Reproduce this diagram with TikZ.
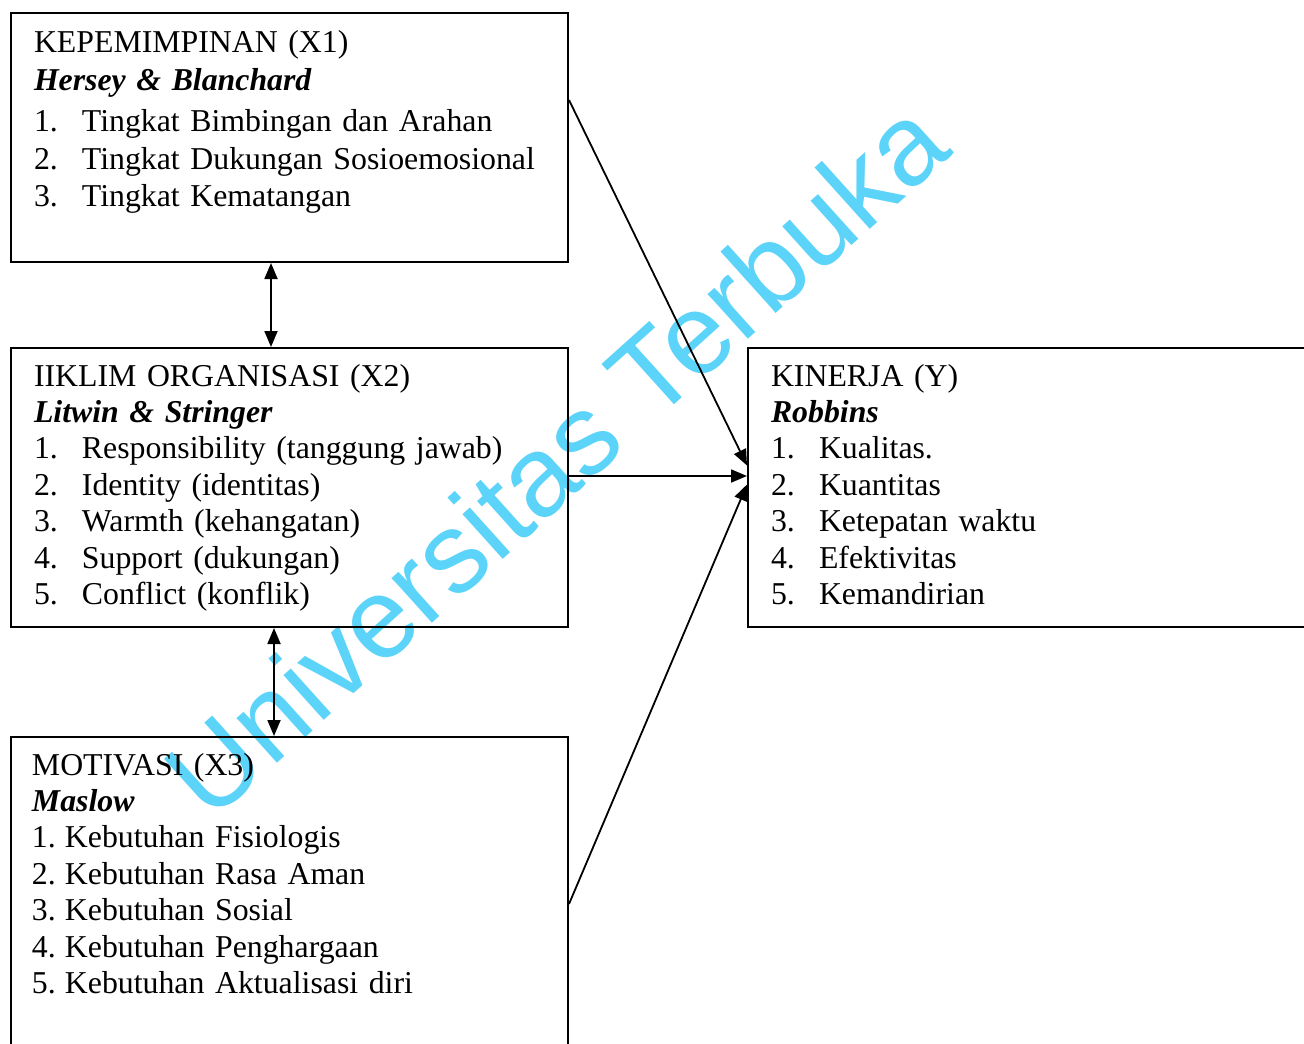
\documentclass[tikz,border=0pt]{standalone}
\usepackage{fontspec}
\usepackage{tikz}
\setmainfont{Liberation Serif}
\newfontfamily\markfont{Liberation Sans}
\usetikzlibrary{arrows.meta, positioning, calc}
\definecolor{markcyan}{HTML}{5CD3F8}

\newcommand{\itemno}[1]{\makebox[24pt][l]{#1}}
\newcommand{\shortno}[1]{\makebox[16.5pt][l]{#1}}

\begin{document}
\begin{tikzpicture}[x=0.5pt, y=-0.5pt,
    font=\fontsize{15.9}{18.2}\selectfont,
    varbox/.style={rectangle, draw=black, line width=1pt, align=left,
      inner xsep=11.5pt, inner ysep=0pt, text width=255.5pt, text height=19pt},
    linkarrow/.style={-{Triangle[length=8pt, width=6.5pt]}, line width=0.9pt},
    twoway/.style={{Triangle[length=8pt, width=6.5pt]}-{Triangle[length=8pt, width=6.5pt]}, line width=0.9pt}]

    \useasboundingbox (0,0) rectangle (1304,1043);

    % watermark
    \node (mark) [rotate=42, text=markcyan, font=\markfont\fontsize{57}{57}\selectfont]
      at (555,458) {Universitas Terbuka};

    \node (x1) [varbox, anchor=north west, text height=20pt, text depth=104.5pt,
      font=\fontsize{15.9}{18.7}\selectfont] at (10,12)
      {KEPEMIMPINAN (X1)\\
       \textbf{\textit{Hersey \& Blanchard}}\\[2pt]
       \itemno{1.}Tingkat Bimbingan dan Arahan\\
       \itemno{2.}Tingkat Dukungan Sosioemosional\\
       \itemno{3.}Tingkat Kematangan};
    \node (x2) [varbox, below=42pt of x1, text depth=120.5pt]
      {IIKLIM ORGANISASI (X2)\\
       \textbf{\textit{Litwin \& Stringer}}\\
       \itemno{1.}Responsibility (tanggung jawab)\\
       \itemno{2.}Identity (identitas)\\
       \itemno{3.}Warmth (kehangatan)\\
       \itemno{4.}Support (dukungan)\\
       \itemno{5.}Conflict (konflik)};
    \node (x3) [varbox, below=54pt of x2, text depth=145pt, inner xsep=10.5pt, text width=257.5pt]
      {MOTIVASI (X3)\\
       \textbf{\textit{Maslow}}\\
       \shortno{1.}Kebutuhan Fisiologis\\
       \shortno{2.}Kebutuhan Rasa Aman\\
       \shortno{3.}Kebutuhan Sosial\\
       \shortno{4.}Kebutuhan Penghargaan\\
       \shortno{5.}Kebutuhan Aktualisasi diri};
    \node (ky) [varbox, right=89pt of x2, text depth=120.5pt, text width=260pt]
      {KINERJA (Y)\\
       \textbf{\textit{Robbins}}\\
       \itemno{1.}Kualitas.\\
       \itemno{2.}Kuantitas\\
       \itemno{3.}Ketepatan waktu\\
       \itemno{4.}Efektivitas\\
       \itemno{5.}Kemandirian};

    \coordinate (tip1) at ([yshift=11pt]ky.west);
    \coordinate (tip2) at ([yshift=5.75pt]ky.west);
    \coordinate (tip3) at ([yshift=1.5pt]ky.west);

    \draw [linkarrow] ([yshift=-44pt]x1.north east) -- (tip1);
    \draw [linkarrow] (x2.east |- tip2) -- (tip2);
    \draw [linkarrow] ([yshift=-84pt]x3.north east) -- (tip3);

    \draw [twoway] ([xshift=-9.25pt]x1.south) -- ([xshift=-9.25pt]x1.south |- x2.north);
    \draw [twoway] ([xshift=-7.75pt]x2.south) -- ([xshift=-7.75pt]x2.south |- x3.north);
\end{tikzpicture}
\end{document}
